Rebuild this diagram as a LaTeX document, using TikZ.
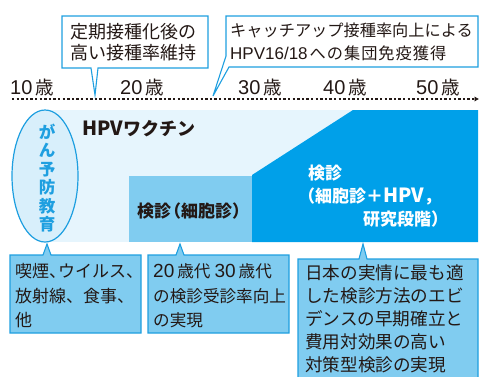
\documentclass[tikz,border=0pt]{standalone}
\usepackage{fontspec}
\setmainfont{Noto Sans CJK JP}
\newfontfamily\lat{Liberation Sans}
\usetikzlibrary{arrows.meta,shapes.geometric}
\definecolor{dkblue}{HTML}{00A0E9}
\definecolor{mdblue}{HTML}{80CCF0}
\definecolor{ltblue}{HTML}{E6F5FD}
\definecolor{elfill}{HTML}{D8EFFB}
\definecolor{edge}{HTML}{1E9FE0}
\definecolor{ink}{HTML}{231815}
\newcommand{\fsz}[2]{\fontsize{#1}{#2}\selectfont}
\newcommand{\dg}[2]{{\lat\fsz{#1}{#1}#2}}
\begin{document}
\begin{tikzpicture}[x=1pt,y=-1pt,
  txt/.style={inner sep=0pt, anchor=west, align=left, text=ink},
  topcall/.style={draw=edge, line width=1.1pt, fill=white, line join=miter},
  botcall/.style={draw=edge, line width=1.1pt, fill=mdblue, line join=miter},
  axisline/.style={draw=ink, line width=1.1pt, dash pattern=on 2.4pt off 2.2pt, -{Latex[length=4.5pt,width=5.5pt]}},
  agelab/.style={txt, font=\fsz{18.5}{22}},
]
\useasboundingbox (0,0) rectangle (486,376);
\begin{scope}
\clip (0,0) rectangle (486,376);
% main band
\fill[ltblue] (47,110) rectangle (478,242);
\fill[mdblue] (129,176) rectangle (253,242);
\fill[dkblue] (252,175) -- (353,110) -- (478,110) -- (478,242) -- (252,242) -- cycle;
\node[draw=edge, line width=1.2pt, fill=elfill, ellipse, minimum width=66pt, minimum height=132pt, inner sep=0pt] (edu) at (45,176) {};
\node[inner sep=0pt, text=edge, font=\bfseries\fsz{16.5}{18.4}, align=center] (edutxt) at (47,178) {が\\ん\\予\\防\\教\\育};
\node[txt, font=\bfseries\fsz{18}{20}] (hpv) at (82,129) {{\fsz{19.5}{20}HPV}ワクチン};
\node[txt, font=\bfseries\fsz{17}{20}] (kc) at (137,211) {検診\kern-7pt（細胞診）};
\node[txt, text=white, font=\bfseries\fsz{17}{23}] (kw) at (298,196) {\hspace*{10pt}検診\\（細胞診＋{\fsz{19.5}{23}HPV}，\\\hspace*{65pt}研究段階）};
% axis
\coordinate (ax0) at (12,99);
\coordinate (ax1) at (479,99);
\draw[axisline] (ax0) -- (ax1);
\node[agelab] (a10) at (10,87) {\dg{20}{10}\kern3pt 歳};
\node[agelab] (a20) at (120,87) {\dg{20}{20}\kern3pt 歳};
\node[agelab] (a30) at (238,87) {\dg{20}{30}\kern3pt 歳};
\node[agelab] (a40) at (323,87) {\dg{20}{40}\kern3pt 歳};
\node[agelab] (a50) at (416,87) {\dg{20}{50}\kern3pt 歳};
% top callouts
\draw[topcall] (62,16) -- (208,16) -- (208,68) -- (98,68) -- (95,95) -- (91,68) -- (62,68) -- cycle;
\node[txt, font=\fsz{18}{21}] (c1) at (70,42) {定期接種化後の\\高い接種率維持};
\draw[topcall] (226,16) -- (478,16) -- (478,67) -- (229,67) -- (213,96) -- (226,56) -- cycle;
\node[txt, font=\fsz{16.2}{22.5}] (c2) at (230,42) {キャッチアップ接種率向上による\\\dg{17}{HPV16/18}\kern2pt へ\kern1pt の\kern1pt 集\kern1pt 団\kern1pt 免\kern1pt 疫\kern1pt 獲\kern1pt 得};
% bottom callouts
\draw[botcall] (10,255) -- (43,255) -- (47,244) -- (51,255) -- (141,255) -- (141,333) -- (10,333) -- cycle;
\node[txt, font=\fsz{17}{24.5}] (b1) at (15,296) {喫煙、\kern-8pt ウイルス、\\放射線、食事、\\他};
\draw[botcall] (148,255) -- (176,255) -- (180,244) -- (184,255) -- (289,255) -- (289,333) -- (148,333) -- cycle;
\node[txt, font=\fsz{16.6}{24.5}] (b2) at (153,296) {\dg{19}{20}\kern3pt 歳代\kern4pt \dg{19}{30}\kern3pt 歳代\\の検診受診率向上\\の実現};
\draw[botcall] (298,259) -- (359,259) -- (363,244) -- (367,259) -- (478,259) -- (478,390) -- (298,390) -- cycle;
\node[txt, font=\fsz{17.6}{23}] (b3) at (305,319) {日本の実情に最も適\\した検診方法のエビ\\デンスの早期確立と\\費用対効果の高い\\対策型検診の実現};
\end{scope}
\end{tikzpicture}
\end{document}
